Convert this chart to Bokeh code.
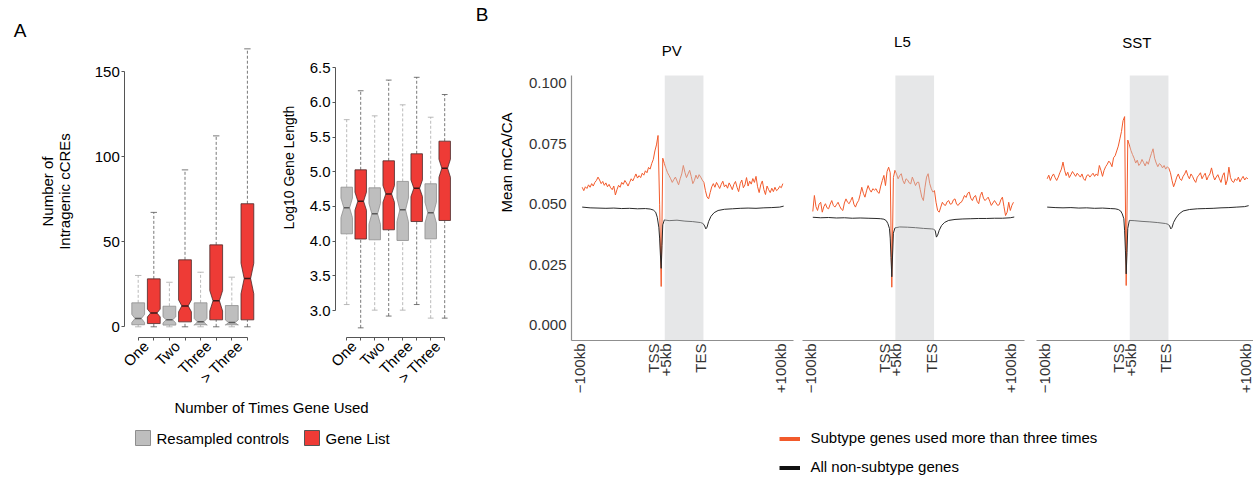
import math
from bokeh.plotting import figure
from bokeh.models import Range1d, FixedTicker, PrintfTickFormatter, Label, LinearAxis
from bokeh.embed import file_html
from bokeh.resources import INLINE

FONT = "Liberation Sans"
RED = "#EE3B36"
GRAY = "#BEBEBE"
ORANGE = "#F25A2B"

# ---------------- data: panel A ----------------
categories = ["One", "Two", "Three", "> Three"]

cre_ctrl_q1 = [1.2, 1.0, 1.2, 1.2]
cre_ctrl_med = [4.9, 4.1, 2.9, 2.5]
cre_ctrl_q3 = [14.1, 12.1, 14.1, 12.5]
cre_ctrl_lo = [0.0, 0.0, 0.0, 0.0]
cre_ctrl_hi = [30.2, 26.2, 32.1, 29.2]
cre_ctrl_notch = [2.4, 1.8, 2.0, 1.5]
cre_gene_q1 = [1.9, 2.9, 4.1, 4.1]
cre_gene_med = [8.1, 12.3, 15.3, 28.4]
cre_gene_q3 = [28.2, 39.4, 48.2, 72.4]
cre_gene_lo = [0.0, 0.0, 0.0, 0.0]
cre_gene_hi = [67.3, 92.3, 112.3, 163.5]
cre_gene_notch = [2.3, 3.5, 6.0, 9.0]

len_ctrl_q1 = [4.105, 4.019, 4.009, 4.033]
len_ctrl_med = [4.48, 4.393, 4.45, 4.41]
len_ctrl_q3 = [4.777, 4.768, 4.86, 4.826]
len_ctrl_lo = [3.086, 3.005, 3.005, 2.89]
len_ctrl_hi = [5.75, 5.805, 5.964, 5.785]
len_ctrl_notch = [0.14, 0.15, 0.17, 0.15]
len_gene_q1 = [4.03, 4.163, 4.282, 4.297]
len_gene_med = [4.575, 4.68, 4.762, 5.05]
len_gene_q3 = [5.027, 5.157, 5.258, 5.44]
len_gene_lo = [2.75, 2.92, 3.086, 2.89]
len_gene_hi = [6.166, 6.32, 6.36, 6.112]
len_gene_notch = [0.13, 0.12, 0.12, 0.13]

cre_ticks = [0, 50, 100, 150]
len_ticks = [3.0, 3.5, 4.0, 4.5, 5.0, 5.5, 6.0, 6.5]

# ---------------- data: panel B (metagene profiles) ----------------
meta_ticks = [-103.5, -9.5, 5, 50, 150.5]
meta_tick_labels = ["\u2212100kb", "TSS", "+5kb", "TES", "+100kb"]
gene_body = [4.5, 53.5]
mca_ticks = [0.0, 0.025, 0.05, 0.075, 0.1]

orange_bins = list(range(-100, 156, 2))

pv_orange = [
    0.0570, 0.0556, 0.0572, 0.0565, 0.0580, 0.0570, 0.0585, 0.0575, 0.0590, 0.0598,
    0.0612, 0.0600, 0.0585, 0.0594, 0.0578, 0.0588, 0.0572, 0.0582, 0.0568, 0.0560,
    0.0575, 0.0538, 0.0560, 0.0578, 0.0570, 0.0590, 0.0582, 0.0598, 0.0588, 0.0575,
    0.0590, 0.0605, 0.0596, 0.0610, 0.0625, 0.0608, 0.0618, 0.0610, 0.0628, 0.0620,
    0.0638, 0.0630, 0.0652, 0.0645, 0.0668, 0.0685, 0.0720, 0.0745, 0.0784, 0.0500,
    0.0160, 0.0690, 0.0668, 0.0648, 0.0630, 0.0618, 0.0605, 0.0590, 0.0602, 0.0612,
    0.0596, 0.0580, 0.0605, 0.0625, 0.0660, 0.0632, 0.0610, 0.0625, 0.0640, 0.0615,
    0.0585, 0.0598, 0.0620, 0.0605, 0.0622, 0.0612, 0.0600, 0.0590, 0.0556, 0.0530,
    0.0522, 0.0548, 0.0572, 0.0585, 0.0570, 0.0590, 0.0578, 0.0565, 0.0582, 0.0595,
    0.0572, 0.0580, 0.0566, 0.0588, 0.0575, 0.0560, 0.0582, 0.0594, 0.0570, 0.0552,
    0.0585, 0.0600, 0.0568, 0.0580, 0.0610, 0.0575, 0.0595, 0.0583, 0.0606, 0.0590,
    0.0615, 0.0572, 0.0548, 0.0580, 0.0596, 0.0560, 0.0540, 0.0575, 0.0560, 0.0548,
    0.0566, 0.0552, 0.0570, 0.0556, 0.0562, 0.0574, 0.0568, 0.0585,
]
l5_orange = [
    0.0470, 0.0536, 0.0490, 0.0474, 0.0500, 0.0508, 0.0467, 0.0490, 0.0502, 0.0485,
    0.0481, 0.0500, 0.0515, 0.0495, 0.0488, 0.0498, 0.0508, 0.0492, 0.0480, 0.0474,
    0.0505, 0.0522, 0.0508, 0.0502, 0.0515, 0.0529, 0.0500, 0.0488, 0.0505, 0.0515,
    0.0540, 0.0570, 0.0545, 0.0529, 0.0555, 0.0577, 0.0560, 0.0550, 0.0564, 0.0558,
    0.0564, 0.0550, 0.0545, 0.0575, 0.0598, 0.0619, 0.0577, 0.0635, 0.0653, 0.0630,
    0.0157, 0.0610, 0.0640, 0.0625, 0.0605, 0.0618, 0.0626, 0.0598, 0.0584, 0.0605,
    0.0600, 0.0588, 0.0584, 0.0612, 0.0595, 0.0577, 0.0590, 0.0591, 0.0560, 0.0529,
    0.0515, 0.0570, 0.0612, 0.0626, 0.0585, 0.0564, 0.0550, 0.0556, 0.0508, 0.0474,
    0.0467, 0.0488, 0.0508, 0.0498, 0.0495, 0.0510, 0.0515, 0.0500, 0.0502, 0.0518,
    0.0522, 0.0500, 0.0495, 0.0505, 0.0508, 0.0520, 0.0536, 0.0528, 0.0545, 0.0550,
    0.0525, 0.0515, 0.0530, 0.0536, 0.0512, 0.0502, 0.0535, 0.0550, 0.0525, 0.0515,
    0.0522, 0.0529, 0.0512, 0.0495, 0.0505, 0.0515, 0.0505, 0.0495, 0.0498, 0.0518,
    0.0529, 0.0490, 0.0453, 0.0467, 0.0508, 0.0474, 0.0495, 0.0508,
]
sst_orange = [
    0.0605, 0.0620, 0.0598, 0.0615, 0.0625, 0.0610, 0.0598, 0.0612, 0.0630, 0.0645,
    0.0674, 0.0640, 0.0618, 0.0632, 0.0610, 0.0622, 0.0635, 0.0625, 0.0615, 0.0628,
    0.0620, 0.0612, 0.0625, 0.0605, 0.0598, 0.0618, 0.0622, 0.0612, 0.0620, 0.0628,
    0.0615, 0.0625, 0.0618, 0.0660, 0.0640, 0.0615, 0.0640, 0.0655, 0.0665, 0.0678,
    0.0670, 0.0655, 0.0692, 0.0700, 0.0720, 0.0740, 0.0770, 0.0800, 0.0845, 0.0862,
    0.0164, 0.0765, 0.0745, 0.0722, 0.0705, 0.0690, 0.0670, 0.0682, 0.0660, 0.0668,
    0.0685, 0.0672, 0.0658, 0.0676, 0.0665, 0.0690, 0.0710, 0.0729, 0.0690, 0.0670,
    0.0655, 0.0668, 0.0662, 0.0650, 0.0660, 0.0645, 0.0655, 0.0648, 0.0630, 0.0598,
    0.0572, 0.0590, 0.0612, 0.0625, 0.0605, 0.0598, 0.0615, 0.0625, 0.0640, 0.0618,
    0.0605, 0.0625, 0.0615, 0.0600, 0.0590, 0.0612, 0.0620, 0.0630, 0.0605, 0.0618,
    0.0628, 0.0600, 0.0615, 0.0625, 0.0650, 0.0620, 0.0600, 0.0612, 0.0622, 0.0605,
    0.0590, 0.0618, 0.0630, 0.0580, 0.0600, 0.0653, 0.0610, 0.0595, 0.0590, 0.0605,
    0.0598, 0.0612, 0.0592, 0.0605, 0.0615, 0.0600, 0.0610, 0.0605,
]

black_bins = [-100, -90, -80, -70, -60, -50, -40, -30, -20, -14, -10, -7, -5, -3, -2, -1,
              0, 1, 2, 4, 10, 20, 30, 40, 50, 53, 55, 56.5, 58, 60, 63, 67, 72,
              80, 90, 100, 110, 120, 130, 140, 150, 155]
pv_black = [0.0488, 0.0485, 0.0484, 0.0483, 0.0484, 0.0482, 0.0483, 0.0481, 0.0482,
            0.0480, 0.0476, 0.0467, 0.0446, 0.0405, 0.0360, 0.0290,
            0.0235, 0.0330, 0.0415, 0.0435, 0.0432, 0.0434, 0.0430, 0.0428, 0.0424,
            0.0420, 0.0410, 0.0398, 0.0405, 0.0428, 0.0450, 0.0465, 0.0474,
            0.0479, 0.0481, 0.0483, 0.0484, 0.0483, 0.0485, 0.0486, 0.0488, 0.0492]
l5_black = [0.0446, 0.0444, 0.0445, 0.0443, 0.0444, 0.0442, 0.0443, 0.0442, 0.0441,
            0.0440, 0.0438, 0.0432, 0.0420, 0.0400, 0.0360, 0.0280,
            0.0200, 0.0290, 0.0380, 0.0402, 0.0406, 0.0405, 0.0403, 0.0400, 0.0398,
            0.0397, 0.0390, 0.0364, 0.0372, 0.0392, 0.0412, 0.0425, 0.0433,
            0.0437, 0.0439, 0.0440, 0.0441, 0.0441, 0.0442, 0.0442, 0.0444, 0.0447]
sst_black = [0.0488, 0.0486, 0.0485, 0.0486, 0.0484, 0.0485, 0.0483, 0.0484, 0.0482,
             0.0481, 0.0478, 0.0472, 0.0460, 0.0440, 0.0390, 0.0310,
             0.0212, 0.0300, 0.0400, 0.0433, 0.0432, 0.0429, 0.0427, 0.0424, 0.0420,
             0.0417, 0.0410, 0.0398, 0.0404, 0.0425, 0.0443, 0.0460, 0.0472,
             0.0478, 0.0481, 0.0482, 0.0483, 0.0485, 0.0486, 0.0488, 0.0490, 0.0494]

# ---------------- one canvas, sub-panels through their own ranges ----------------
W, H = 1253, 475

p = figure(width=W, height=H, x_range=Range1d(0, W), y_range=Range1d(H, 0),
           x_axis_type=None, y_axis_type=None,
           output_backend="svg", toolbar_location=None,
           min_border_left=0, min_border_right=0, min_border_top=0, min_border_bottom=0)
p.title.visible = False
p.outline_line_color = None
p.background_fill_color = "white"
p.border_fill_color = "white"


def xmap(u_ref, px_ref, ppu):
    return Range1d(u_ref - px_ref / ppu, u_ref + (W - px_ref) / ppu)


def ymap(v_ref, py_ref, ppu):
    return Range1d(v_ref - (H - py_ref) / ppu, v_ref + py_ref / ppu)


# pixel placement of each sub-panel (layout only)
A1_PPU_X, A1_PPU_Y = 15.6, 1.7
A2_PPU_X, A2_PPU_Y = 14.0, 69.4
B_PPU_X, B_PPU_Y = 0.79, 2420.0

p.extra_x_ranges = {
    "a1x": xmap(1, 137.7, A1_PPU_X),
    "a2x": xmap(1, 346.2, A2_PPU_X),
    "pvx": xmap(-100, 581.7, B_PPU_X),
    "l5x": xmap(-100, 812.3, B_PPU_X),
    "sstx": xmap(-100, 1046.7, B_PPU_X),
}
p.extra_y_ranges = {
    "a1y": ymap(0, 326.3, A1_PPU_Y),
    "a2y": ymap(3.0, 310.0, A2_PPU_Y),
    "by": ymap(0.0, 324.7, B_PPU_Y),
}


def px_to_u(px, ppu, u_ref, px_ref):
    return u_ref + (px - px_ref) / ppu


def text(ix, iy, s, size="15px", angle=0.0, align="center", baseline="middle", color="black"):
    p.add_layout(Label(x=ix, y=iy, text=s, angle=angle, text_align=align,
                       text_baseline=baseline, text_font=FONT,
                       text_font_size=size, text_color=color))


def draw_boxes(pos, q1, med, q3, lo, hi, notch, fill, edge, whisk, medc, xn, yn):
    rn = dict(x_range_name=xn, y_range_name=yn)
    w = 0.82
    h = w / 2
    xs, ys = [], []
    for x0, a, m, b, n in zip(pos, q1, med, q3, notch):
        xs.append([x0 - h, x0 - h, x0 - h / 2, x0 - h, x0 - h,
                   x0 + h, x0 + h, x0 + h / 2, x0 + h, x0 + h])
        ys.append([a, m - n, m, m + n, b, b, m + n, m, m - n, a])
    p.segment(pos, q3, pos, hi, line_color=whisk, line_width=0.8, line_dash="3 2", **rn)
    p.segment(pos, lo, pos, q1, line_color=whisk, line_width=0.8, line_dash="3 2", **rn)
    sx0 = [x - w / 4 for x in pos]
    sx1 = [x + w / 4 for x in pos]
    p.segment(sx0, hi, sx1, hi, line_color=whisk, line_width=0.8, **rn)
    p.segment(sx0, lo, sx1, lo, line_color=whisk, line_width=0.8, **rn)
    p.patches(xs, ys, fill_color=fill, line_color=edge, line_width=0.8, **rn)
    p.segment([x - h / 2 for x in pos], med, [x + h / 2 for x in pos], med,
              line_color=medc, line_width=1.5, **rn)


def box_axes(xn, yn, x_loc, y_loc, yticks, ybounds, fmt=None):
    mids = [2 * i + 1.5 for i in range(len(categories))]
    ax = LinearAxis(x_range_name=xn, y_range_name=yn, fixed_location=y_loc)
    ax.ticker = FixedTicker(ticks=mids, minor_ticks=[k + 1 for k in range(2 * len(categories))])
    ax.major_label_overrides = {m: c for m, c in zip(mids, categories)}
    ax.bounds = (1, 2 * len(categories))
    ax.major_tick_line_color = None
    ax.major_tick_in = 0
    ax.major_tick_out = 0
    ax.minor_tick_in = 0
    ax.minor_tick_out = 3
    ax.minor_tick_line_color = "#555555"
    ax.axis_line_color = "#555555"
    ax.major_label_orientation = math.pi / 4
    ax.major_label_standoff = 3
    ax.major_label_text_font = FONT
    ax.major_label_text_font_size = "15px"
    ax.major_label_text_color = "black"
    p.add_layout(ax, "below")
    ay = LinearAxis(x_range_name=xn, y_range_name=yn, fixed_location=x_loc)
    ay.ticker = FixedTicker(ticks=yticks)
    if fmt:
        ay.formatter = PrintfTickFormatter(format=fmt)
    ay.bounds = ybounds
    ay.major_tick_in = 0
    ay.major_tick_out = 3
    ay.major_tick_line_color = "#555555"
    ay.axis_line_color = "#555555"
    ay.minor_tick_line_color = None
    ay.major_label_standoff = 2
    ay.major_label_text_font = FONT
    ay.major_label_text_font_size = "15px"
    ay.major_label_text_color = "black"
    p.add_layout(ay, "left")


ctrl_pos = [2 * i + 1 for i in range(len(categories))]
gene_pos = [2 * i + 2 for i in range(len(categories))]

# ---------------- A1 ----------------
draw_boxes(ctrl_pos, cre_ctrl_q1, cre_ctrl_med, cre_ctrl_q3, cre_ctrl_lo, cre_ctrl_hi,
           cre_ctrl_notch, GRAY, "#8E8E8E", "#A8A8A8", "#5A5A5A", "a1x", "a1y")
draw_boxes(gene_pos, cre_gene_q1, cre_gene_med, cre_gene_q3, cre_gene_lo, cre_gene_hi,
           cre_gene_notch, RED, "#4A2A2A", "#555555", "#3A1A1A", "a1x", "a1y")
box_axes("a1x", "a1y",
         px_to_u(124.3, A1_PPU_X, 1, 137.7),
         0 - (337 - 326.3) / A1_PPU_Y,
         cre_ticks, (0, 150))
text(19.7, 30, "A", size="19px")
text(46.5, 191, "Number of", angle=math.pi / 2)
text(63.5, 191, "Intragenic cCREs", angle=math.pi / 2)

# ---------------- A2 ----------------
draw_boxes(ctrl_pos, len_ctrl_q1, len_ctrl_med, len_ctrl_q3, len_ctrl_lo, len_ctrl_hi,
           len_ctrl_notch, GRAY, "#8E8E8E", "#A8A8A8", "#5A5A5A", "a2x", "a2y")
draw_boxes(gene_pos, len_gene_q1, len_gene_med, len_gene_q3, len_gene_lo, len_gene_hi,
           len_gene_notch, RED, "#4A2A2A", "#555555", "#3A1A1A", "a2x", "a2y")
box_axes("a2x", "a2y",
         px_to_u(335, A2_PPU_X, 1, 346.2),
         3.0 - (337 - 310) / A2_PPU_Y,
         len_ticks, (3.0, 6.5), fmt="%.1f")
text(288, 167, "Log10 Gene Length", size="14px", angle=math.pi / 2)

text(271.2, 406.5, "Number of Times Gene Used", size="15px")
legA_labels = ["Resampled controls", "Gene List"]
legA_fill = [GRAY, RED]
legA_edge = ["#8E8E8E", "#555555"]
legA_left = [135, 304]
for lab, fc, ec, lx in zip(legA_labels, legA_fill, legA_edge, legA_left):
    p.quad(left=[lx], right=[lx + 15], top=[430], bottom=[445],
           fill_color=fc, line_color=ec, line_width=1)
    text(lx + 21, 438, lab, size="15px", align="left")

# ---------------- B panels ----------------
B_TOP_V = (324.7 - 75) / B_PPU_Y
B_BOT_V = (324.7 - 340) / B_PPU_Y
B_LEFT_U = -100 - (581.7 - 571) / B_PPU_X
B_RIGHT_U = B_LEFT_U + 222 / B_PPU_X

panels = [
    ("pvx", "PV", 50, pv_orange, pv_black, True, 581.7),
    ("l5x", "L5", 41, l5_orange, l5_black, False, 812.3),
    ("sstx", "SST", 42, sst_orange, sst_black, False, 1046.7),
]
for xn, title, ty, orange, black, show_y, start_px in panels:
    rn = dict(x_range_name=xn, y_range_name="by")
    p.line(orange_bins, orange, line_color=ORANGE, line_width=1.0, **rn)
    p.line(black_bins, black, line_color="#2A2A2A", line_width=1.0, **rn)
    p.quad(left=[gene_body[0]], right=[gene_body[1]], bottom=[B_BOT_V], top=[B_TOP_V],
           fill_color="#C7C9CC", fill_alpha=0.45, line_color=None, **rn)
    ax = LinearAxis(x_range_name=xn, y_range_name="by", fixed_location=B_BOT_V)
    ax.ticker = FixedTicker(ticks=meta_ticks)
    ax.major_label_overrides = {t: l for t, l in zip(meta_ticks, meta_tick_labels)}
    ax.bounds = (B_LEFT_U, B_RIGHT_U)
    ax.major_tick_line_color = None
    ax.major_tick_in = 0
    ax.major_tick_out = 0
    ax.minor_tick_line_color = None
    ax.axis_line_color = "#8F8F8F"
    ax.axis_line_width = 1.2
    ax.major_label_orientation = math.pi / 2
    ax.major_label_standoff = 3
    ax.major_label_text_font = FONT
    ax.major_label_text_font_size = "15px"
    ax.major_label_text_color = "#333333"
    p.add_layout(ax, "below")
    if show_y:
        ay = LinearAxis(x_range_name=xn, y_range_name="by", fixed_location=B_LEFT_U)
        ay.ticker = FixedTicker(ticks=mca_ticks)
        ay.formatter = PrintfTickFormatter(format="%.3f")
        ay.bounds = (B_BOT_V, B_TOP_V)
        ay.major_tick_line_color = None
        ay.major_tick_in = 0
        ay.major_tick_out = 0
        ay.minor_tick_line_color = None
        ay.axis_line_color = "#8F8F8F"
        ay.axis_line_width = 1.2
        ay.major_label_standoff = 5
        ay.major_label_text_font = FONT
        ay.major_label_text_font_size = "15px"
        ay.major_label_text_color = "#333333"
        p.add_layout(ay, "left")
    center_px = start_px + (27 - (-100)) * B_PPU_X - (581.7 - 571)
    text(center_px, ty, title, size="15px")

text(506, 162, "Mean mCA/CA", size="15px", angle=math.pi / 2)
text(481.7, 14, "B", size="19px")

legB_labels = ["Subtype genes used more than three times", "All non-subtype genes"]
legB_colors = [ORANGE, "#111111"]
legB_y = [438.5, 467.5]
for lab, col, ly in zip(legB_labels, legB_colors, legB_y):
    p.quad(left=[779], right=[799.5], top=[ly - 2], bottom=[ly + 2],
           fill_color=col, line_color=None)
    text(810, ly - 1.5, lab, size="15px", align="left")

open("out.html", "w").write(file_html(p, INLINE))
